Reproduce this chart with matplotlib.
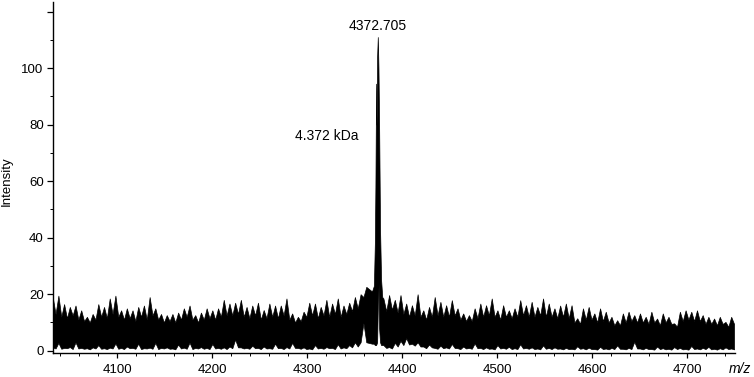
import numpy as np
import matplotlib
matplotlib.use("Agg")
import matplotlib.pyplot as plt
from matplotlib.ticker import MultipleLocator, FixedLocator

plt.rcParams['font.family'] = ['Liberation Sans', 'DejaVu Sans']

# ---- data ----
grid_start, grid_step = 4032, 6
# spike tops at grid points (4032, 4038, ...)
noise_hi = [19.0, 19.5, 16.5, 15.5, 16.0, 14.3, 12.0, 13.0, 16.5, 15.5,
            18.5, 19.5, 14.3, 15.0, 14.3, 15.5, 16.0, 19.0, 15.0, 13.0,
            12.6, 13.0, 13.5, 15.0, 16.0, 12.6, 13.5, 15.0, 14.3, 15.0,
            18.0,
            16.7, 17.0, 18.0, 15.5, 16.0, 17.0, 14.4, 16.7, 16.0, 16.0,
            18.5, 13.2, 12.0, 13.8, 17.0, 16.7, 15.5, 18.0, 16.7, 18.5,
            16.0, 17.0, 19.0, 20.0, 22.6, 21.0, 111.0, 18.5, 19.7, 18.0,
            19.7, 16.7, 16.1, 20.0, 14.3, 15.5, 19.0, 17.3, 16.1, 17.9,
            15.0, 13.2, 12.6, 15.0, 16.7, 16.1, 18.5, 14.3, 16.1, 14.3,
            15.0, 17.9, 16.1, 17.3, 15.5, 18.5, 16.7, 15.0, 16.0,
            16.7, 16.1, 11.5, 15.0, 15.5, 13.2, 15.0, 13.8, 12.0, 10.8,
            13.2, 13.8, 12.6, 13.2, 12.0, 13.8, 11.4, 13.2, 12.0, 9.7,
            13.8, 14.3, 13.8, 14.3, 12.6, 12.0, 11.4, 12.0, 10.2, 12.0]
# top of the solid noise core, half a step after each grid point
noise_core = [13.0, 12.0, 11.5, 12.5, 11.0, 10.5, 10.0, 11.0, 12.0, 11.5,
              13.0, 12.0, 11.0, 11.5, 10.5, 12.0, 11.0, 12.5, 11.0, 10.0,
              10.5, 10.0, 11.0, 12.0, 11.0, 10.0, 11.0, 11.5, 11.0, 12.0,
              12.5,
              12.5, 13.0, 12.0, 11.5, 12.5, 11.0, 11.5, 12.0, 11.5, 12.5,
              11.0, 10.0, 10.5, 12.0, 12.5, 11.5, 12.5, 12.0, 13.0, 12.0,
              13.0, 14.0, 15.0, 15.0, 16.0, 17.0, 19.0, 14.0, 14.5, 13.5,
              13.0, 12.0, 12.5, 12.0, 11.0, 12.0, 12.5, 12.0, 12.0, 12.5,
              11.0, 10.5, 10.5, 11.5, 12.0, 12.5, 12.0, 11.0, 12.0, 11.5,
              12.0, 12.5, 12.0, 12.0, 12.5, 12.0, 12.0, 11.5, 12.0,
              11.5, 10.0, 9.5, 11.0, 11.0, 10.0, 10.5, 10.0, 9.0, 9.0,
              10.0, 10.5, 10.0, 10.0, 9.5, 10.0, 9.0, 10.0, 9.5, 8.5,
              10.5, 11.0, 10.5, 10.5, 9.5, 9.5, 9.0, 9.5, 8.5, 9.5]
# lower edge at grid points
noise_lo = [1.2, 2.8, 1.0, 1.3, 3.0, 1.0, 0.9, 1.2, 2.0, 0.9,
            1.1, 2.6, 1.0, 1.5, 1.0, 2.5, 0.9, 1.1, 2.8, 1.0,
            1.2, 0.8, 2.2, 1.1, 2.9, 1.0, 1.3, 1.0, 2.4, 1.0,
            1.2,
            1.5, 4.0, 1.2, 1.0, 1.8, 1.0, 1.5, 0.9, 2.5, 1.0,
            1.3, 2.8, 1.0, 1.2, 0.8, 2.0, 1.0, 1.3, 1.0, 2.3,
            1.2, 2.0, 3.0, 3.0, 3.0, 2.5, 35.0, 2.0, 1.3, 2.8,
            3.5, 4.5, 2.5, 3.0, 1.5, 2.2, 1.0, 1.8, 1.2, 2.4,
            0.9, 1.5, 1.0, 2.6, 1.0, 1.2, 0.8, 2.0, 1.0, 1.4,
            0.9, 2.3, 1.0, 1.2, 0.8, 1.9, 1.0, 1.2, 0.8,
            1.0, 0.7, 1.6, 0.9, 1.1, 0.6, 1.4, 0.8, 1.0, 1.9,
            0.7, 1.0, 3.2, 0.8, 1.0, 0.6, 1.5, 0.9, 0.7, 1.3,
            1.0, 0.6, 1.7, 0.8, 1.0, 1.4, 0.7, 0.9, 1.2, 0.8]
# baseline between grid points
noise_base = [0.8, 0.7, 0.9, 0.6, 0.8, 0.7, 0.5, 0.8, 0.7, 0.6,
              0.8, 0.7, 0.6, 0.9, 0.7, 0.6, 0.8, 0.7, 0.6, 0.8,
              0.7, 0.5, 0.8, 0.7, 0.6, 0.8, 0.7, 0.6, 0.8, 0.7,
              0.6,
              0.9, 1.2, 0.8, 0.7, 0.9, 0.6, 0.8, 0.7, 0.9, 0.6,
              0.8, 1.0, 0.7, 0.6, 0.5, 0.8, 0.7, 0.9, 0.6, 0.8,
              0.9, 1.2, 1.5, 2.0, 2.0, 2.0, 2.0, 1.0, 0.8, 1.5,
              2.0, 2.2, 1.8, 1.5, 0.9, 1.2, 0.7, 0.9, 0.8, 1.0,
              0.6, 0.8, 0.7, 0.9, 0.6, 0.7, 0.5, 0.8, 0.7, 0.6,
              0.6, 0.8, 0.7, 0.6, 0.5, 0.7, 0.6, 0.7, 0.5,
              0.6, 0.5, 0.7, 0.5, 0.6, 0.4, 0.6, 0.5, 0.6, 0.7,
              0.5, 0.6, 0.8, 0.5, 0.6, 0.4, 0.6, 0.5, 0.4, 0.6,
              0.5, 0.4, 0.6, 0.5, 0.6, 0.5, 0.4, 0.5, 0.6, 0.5]

# finer reading around the main peak
peak_mz = [4359.0, 4370.0, 4371.0, 4371.6, 4372.3, 4372.9, 4373.4, 4374.1,
           4374.5, 4374.8, 4375.5, 4376.5, 4377.6, 4378.8]
peak_hi = [19.0, 23.0, 38.0, 58.0, 94.5, 80.0, 104.0, 111.0,
           105.0, 100.0, 80.0, 42.6, 25.0, 19.0]
peak_lo = [9.8, 2.5, 2.0, 2.0, 2.0, 2.5, 3.0, 15.0,
           40.0, 25.0, 8.0, 3.0, 2.0, 2.0]

peak_label = "4372.705"
mass_label = "4.372 kDa"
x_ticks = [4100, 4200, 4300, 4400, 4500, 4600, 4700]
y_ticks = [0, 20, 40, 60, 80, 100, 120]
y_ticklabels = ["0", "20", "40", "60", "80", "100", ""]

# ---- assemble ----
n = len(noise_hi)
grid_mz = grid_start + grid_step * np.arange(n)
mid_mz = grid_mz + grid_step / 2
keep_g = (grid_mz < 4369) | (grid_mz > 4379)
keep_m = (mid_mz < 4356.5) | (mid_mz > 4379)
mz = np.concatenate([grid_mz[keep_g], mid_mz[keep_m], peak_mz])
hi = np.concatenate([np.array(noise_hi)[keep_g], np.array(noise_core)[keep_m], peak_hi])
lo = np.concatenate([np.array(noise_lo)[keep_g], np.array(noise_base)[keep_m], peak_lo])
order = np.argsort(mz)
mz, hi, lo = mz[order], hi[order], lo[order]

fig = plt.figure(figsize=(7.54, 3.77), dpi=100)
ax = fig.add_axes([0.0699, 0.0629, 0.9049, 0.9318])

ax.fill_between(mz, lo, hi, facecolor='black', edgecolor='black', linewidth=0.5)

ax.set_xlim(4032, 4750)
ax.set_ylim(-0.9, 123.4)

for s in ['top', 'right']:
    ax.spines[s].set_visible(False)
for s in ['left', 'bottom']:
    ax.spines[s].set_linewidth(1.0)

ax.xaxis.set_major_locator(FixedLocator(x_ticks))
ax.xaxis.set_minor_locator(MultipleLocator(20))
ax.yaxis.set_major_locator(FixedLocator(y_ticks))
ax.set_yticklabels(y_ticklabels)
ax.yaxis.set_minor_locator(MultipleLocator(10))

ax.tick_params(axis='x', which='major', length=3.5, width=0.9, pad=4, labelsize=9.5)
ax.tick_params(axis='x', which='minor', length=2, width=0.7)
ax.tick_params(axis='y', which='major', length=4.5, width=0.9, pad=2, labelsize=9.5)
ax.tick_params(axis='y', which='minor', length=2.2, width=0.7)

ax.set_ylabel("Intensity", fontsize=9.5)
ax.yaxis.set_label_coords(-0.058, 0.49)

ax.text(4374.3, 112.5, peak_label, ha='center', va='bottom', fontsize=10)
ax.text(4320, 76.0, mass_label, ha='center', va='center', fontsize=10)

fig.text(740 / 754, 1 - 369 / 377, "m/z", ha='center', va='center',
         fontsize=10, style='italic')

fig.savefig("out.png", dpi=100)
